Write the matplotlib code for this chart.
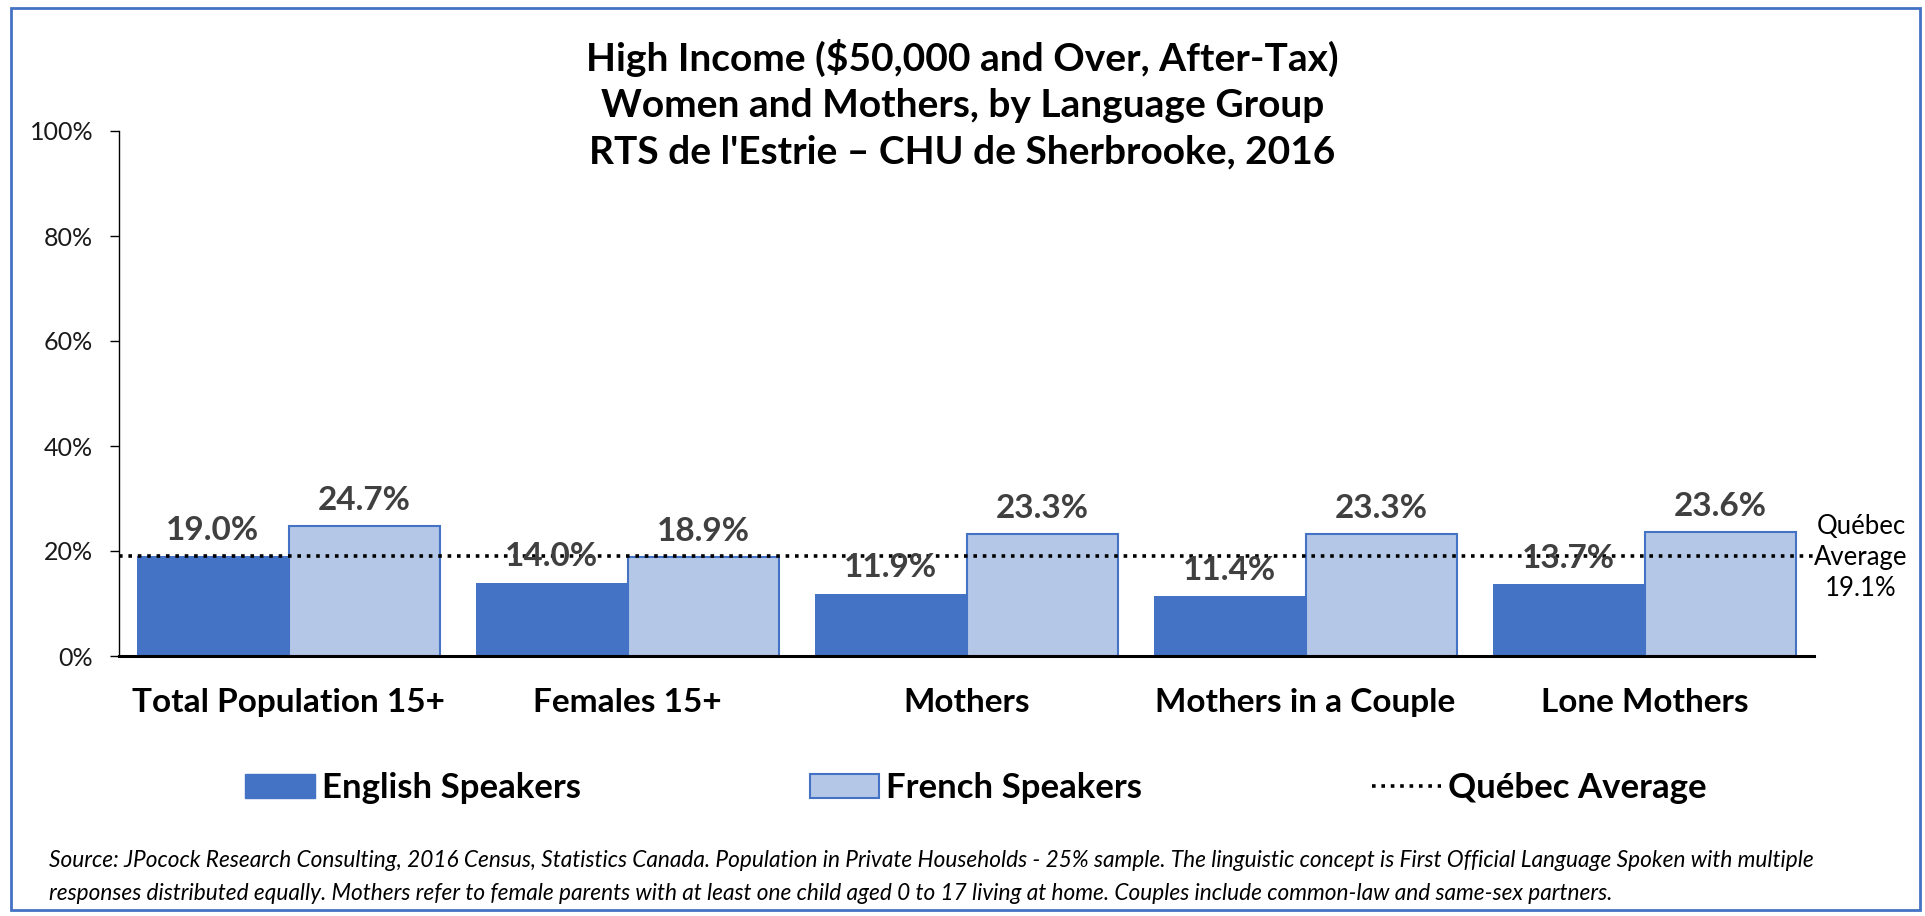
import matplotlib
matplotlib.use("Agg")
import matplotlib.pyplot as plt
from matplotlib.patches import Rectangle, Patch
from matplotlib.lines import Line2D
import numpy as np

plt.rcParams['font.family'] = ['Lato', 'DejaVu Sans']

categories = ["Total Population 15+", "Females 15+", "Mothers", "Mothers in a Couple", "Lone Mothers"]
english = [19.0, 14.0, 11.9, 11.4, 13.7]
french = [24.7, 18.9, 23.3, 23.3, 23.6]
quebec_avg = 19.1
yticks = [0, 20, 40, 60, 80, 100]

title = ("High Income ($50,000 and Over, After-Tax)\n"
         "Women and Mothers, by Language Group\n"
         "RTS de l'Estrie \u2013 CHU de Sherbrooke, 2016")
source = ("Source: JPocock Research Consulting, 2016 Census, Statistics Canada. Population in Private Households - 25% sample. "
          "The linguistic concept is First Official Language Spoken with multiple\n"
          "responses distributed equally. Mothers refer to female parents with at least one child aged 0 to 17 living at home. "
          "Couples include common-law and same-sex partners.")

W, H = 1925, 916
fig = plt.figure(figsize=(W / 100, H / 100), dpi=100)
ax = fig.add_axes([119 / W, 1 - 656 / H, (1814 - 119) / W, (656 - 131) / H])

c_en = "#4472C4"
c_fr = "#B4C7E7"
x = np.arange(len(categories))
bw = 0.448
b1 = ax.bar(x - bw / 2, english, bw, color=c_en, edgecolor=c_en, linewidth=0, zorder=2)
b2 = ax.bar(x + bw / 2, french, bw, color=c_fr, edgecolor=c_en, linewidth=1.5, zorder=2)
ax.axhline(quebec_avg, color="black", linestyle=(0, (1, 1.6)), linewidth=2.6, zorder=3)

for bars, vals in ((b1, english), (b2, french)):
    ax.bar_label(bars, labels=[f"{v:.1f}%" for v in vals], padding=8, fontsize=24,
                 fontweight="bold", color="#404040", zorder=4)

ax.set_xlim(-0.5, len(categories) - 0.5)
ax.set_ylim(0, 100)
ax.set_yticks(yticks)
ax.set_yticklabels([f"{t}%" for t in yticks], fontsize=18, color="#1a1a1a")
ax.set_xticks(x)
ax.set_xticklabels(categories, fontsize=24, fontweight="bold")
ax.tick_params(axis="x", length=0, pad=23)
ax.tick_params(axis="y", length=6.5, width=1, pad=12)
for s in ("top", "right"):
    ax.spines[s].set_visible(False)
ax.spines["left"].set_linewidth(1)
ax.spines["bottom"].set_linewidth(2.2)

fig.text(0.5, 1 - 104 / H, title, ha="center", va="center", fontsize=28, fontweight="bold",
         linespacing=1.38)

fig.text(1861 / W, 1 - 557 / H, "Qu\u00e9bec\nAverage\n19.1%", ha="center", va="center",
         fontsize=18.5, linespacing=1.3)

handles = [Patch(facecolor=c_en, edgecolor=c_en, label="English Speakers"),
           Patch(facecolor=c_fr, edgecolor=c_en, linewidth=1.5, label="French Speakers"),
           Line2D([0], [0], color="black", linestyle=(0, (1, 1.6)), linewidth=2.6, label="Qu\u00e9bec Average")]
leg = fig.legend(handles=handles, loc="center", bbox_to_anchor=(976 / W, 1 - 788 / H), ncol=3,
                 frameon=False, prop={"weight": "bold", "size": 25},
                 handlelength=2.0, handleheight=0.66, handletextpad=0.2, columnspacing=6.6)

fig.text(49 / W, 1 - 877 / H, source, ha="left", va="center", fontsize=16.3, style="italic",
         linespacing=1.7)

fig.add_artist(Rectangle((11 / W, 6 / H), (1920 - 11) / W, (908 - 6) / H, transform=fig.transFigure,
                         fill=False, edgecolor="#4472C4", linewidth=2))

fig.savefig("out.png", dpi=100)
